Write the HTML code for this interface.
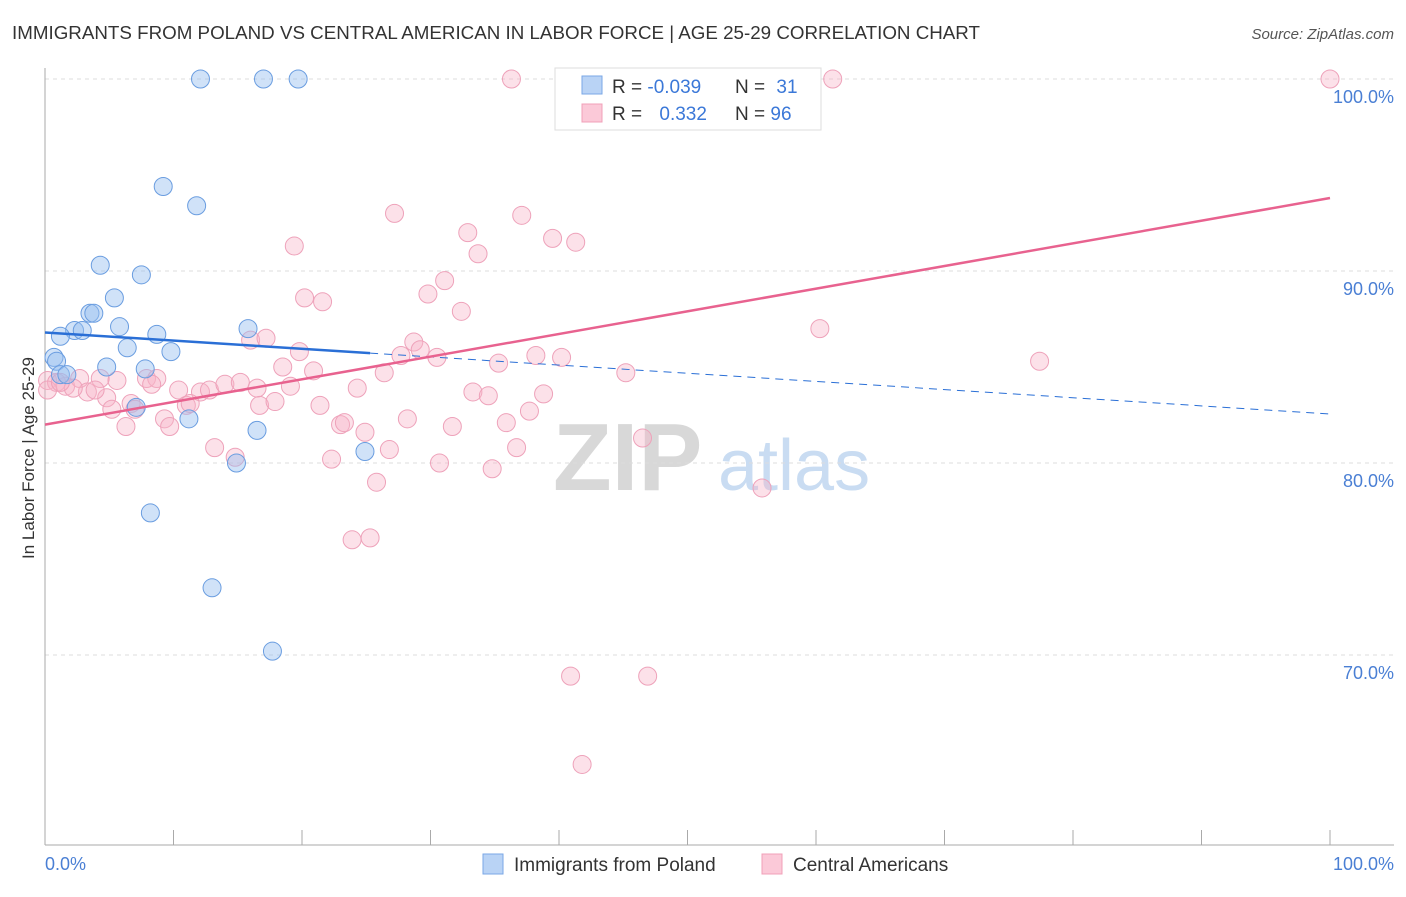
<!DOCTYPE html>
<html><head><meta charset="utf-8"><style>
body{margin:0;background:#fff;font-family:"Liberation Sans",sans-serif}
svg text{font-family:"Liberation Sans",sans-serif}
</style></head><body>
<svg id="chart" width="1406" height="892" xmlns="http://www.w3.org/2000/svg">
<text x="12" y="39" font-size="18" fill="#333" textLength="968" lengthAdjust="spacingAndGlyphs">IMMIGRANTS FROM POLAND VS CENTRAL AMERICAN IN LABOR FORCE | AGE 25-29 CORRELATION CHART</text>
<text x="1394" y="39" font-size="15" fill="#555" text-anchor="end" font-style="italic">Source: ZipAtlas.com</text>
<g>
<text x="553" y="490" font-size="96" fill="#d8d8d8" font-family="Liberation Serif" font-weight="bold">ZIP</text>
<text x="718" y="490" font-size="72" fill="#c9dcf2">atlas</text>
</g>
<g id="grid"></g>
<g id="axes"></g>
<g id="pts"></g>
<g id="trends"></g>
<text transform="translate(34,458) rotate(-90)" font-size="17" fill="#333" text-anchor="middle">In Labor Force | Age 25-29</text>
<text x="45" y="870" font-size="18" fill="#4a7fd4">0.0%</text>
<text x="1394" y="870" font-size="18" fill="#4a7fd4" text-anchor="end">100.0%</text>
<g>
<rect x="555" y="68" width="266" height="62" fill="#fff" stroke="#ddd"/>
<rect x="582" y="76" width="20" height="18" fill="#b9d3f5" stroke="#7aa7e6"/>
<rect x="582" y="104" width="20" height="18" fill="#fbc9d8" stroke="#f0a0b8"/>
<text x="612" y="93" font-size="19" fill="#333">R = <tspan fill="#3b78d8">-0.039</tspan></text>
<text x="735" y="93" font-size="19" fill="#333">N = <tspan fill="#3b78d8" dx="6">31</tspan></text>
<text x="612" y="120" font-size="19" fill="#333">R = <tspan fill="#3b78d8" dx="12">0.332</tspan></text>
<text x="735" y="120" font-size="19" fill="#333">N = <tspan fill="#3b78d8">96</tspan></text>
</g>
<g>
<rect x="483" y="854" width="20" height="20" fill="#b9d3f5" stroke="#7aa7e6"/>
<text x="514" y="871" font-size="19" fill="#333">Immigrants from Poland</text>
<rect x="762" y="854" width="20" height="20" fill="#fbc9d8" stroke="#f0a0b8"/>
<text x="793" y="871" font-size="19" fill="#333">Central Americans</text>
</g>
</svg>
<script>
const yTicks=[100,90,80,70];
const blueX=[12.1,17.0,19.7,9.2,11.8,4.3,7.5,5.4,3.5,3.8,2.3,2.9,1.2,5.8,15.8,8.7,6.4,9.8,0.7,0.9,4.8,7.8,1.2,1.7,7.1,11.2,16.5,24.9,14.9,8.2,13.0,17.7];
const blueY=[100,100,100,94.4,93.4,90.3,89.8,88.6,87.8,87.8,86.9,86.9,86.6,87.1,87.0,86.7,86.0,85.8,85.5,85.3,85.0,84.9,84.6,84.6,82.9,82.3,81.7,80.6,80.0,77.4,73.5,70.2];
const pinkX=[36.3,43.3,61.3,100,27.2,37.1,32.9,39.5,41.3,19.4,33.7,31.1,29.8,20.2,21.6,32.4,60.3,16.0,17.2,28.7,29.2,27.7,30.5,19.8,38.2,40.2,35.3,77.4,18.5,20.9,26.4,45.2,0.2,0.9,1.6,2.7,4.3,5.6,7.9,8.7,8.3,10.4,12.1,12.8,14.0,15.2,16.5,19.1,24.3,33.3,34.5,38.8,3.3,4.8,6.7,5.2,7.0,9.3,11.0,11.3,16.7,17.9,21.4,28.2,37.7,23.0,23.3,31.7,35.9,6.3,9.7,24.9,13.2,14.8,22.3,26.8,36.7,30.7,34.8,46.5,25.8,55.8,23.9,25.3,40.9,46.9,41.8,0.2,2.2,3.9,1.2];
const pinkY=[100,100,100,100,93.0,92.9,92.0,91.7,91.5,91.3,90.9,89.5,88.8,88.6,88.4,87.9,87.0,86.4,86.5,86.3,85.9,85.6,85.5,85.8,85.6,85.5,85.2,85.3,85.0,84.8,84.7,84.7,84.3,84.2,84.0,84.4,84.4,84.3,84.4,84.4,84.1,83.8,83.7,83.8,84.1,84.2,83.9,84.0,83.9,83.7,83.5,83.6,83.7,83.4,83.1,82.8,82.8,82.3,83.0,83.1,83.0,83.2,83.0,82.3,82.7,82.0,82.1,81.9,82.1,81.9,81.9,81.6,80.8,80.3,80.2,80.7,80.8,80.0,79.7,81.3,79.0,78.7,76.0,76.1,68.9,68.9,64.3,83.8,83.9,83.8,84.2];
const blueTrend=[86.8,82.55];
const pinkTrend=[82.0,93.8];
const NS="http://www.w3.org/2000/svg";
const X=v=>45+v*12.85, Y=v=>79+(100-v)*19.2;
function mk(t,a,p){const e=document.createElementNS(NS,t);for(const k in a)e.setAttribute(k,a[k]);document.getElementById(p).appendChild(e);return e;}
yTicks.forEach(t=>{
 const l=mk('line',{x1:45,x2:1394,y1:Y(t),y2:Y(t),stroke:'#ddd','stroke-dasharray':'4,4'},'grid');
 
 
 const tx=mk('text',{x:1394,y:Y(t)+24,'font-size':18,fill:'#4a7fd4','text-anchor':'end'},'grid');
 tx.textContent=t.toFixed(1)+'%';
 
 
});
mk('line',{x1:45,x2:45,y1:68,y2:845,stroke:'#aaa'},'axes');
mk('line',{x1:45,x2:1394,y1:845,y2:845,stroke:'#aaa'},'axes');
for(let i=0;i<=10;i++){mk('line',{x1:X(i*10),x2:X(i*10),y1:830,y2:845,stroke:'#aaa'},'axes');}
pinkX.forEach((x,i)=>{
 const c=mk('circle',{cx:X(x),cy:Y(pinkY[i]),r:9,fill:'rgba(248,180,200,0.4)',stroke:'#eea2ba','stroke-width':1},'pts');
 
 
});
blueX.forEach((x,i)=>{
 const c=mk('circle',{cx:X(x),cy:Y(blueY[i]),r:9,fill:'rgba(150,190,240,0.45)',stroke:'#6a9de0','stroke-width':1},'pts');
 
 
});
const bAt=x=>blueTrend[0]+(blueTrend[1]-blueTrend[0])*x/100;
const b1=mk('line',{x1:X(0),y1:Y(bAt(0)),x2:X(25.3),y2:Y(bAt(25.3)),stroke:'#2a6fd6','stroke-width':2.5},'trends');


const b2=mk('line',{x1:X(25.3),y1:Y(bAt(25.3)),x2:X(100),y2:Y(bAt(100)),stroke:'#2a6fd6','stroke-width':1,'stroke-dasharray':'8,6'},'trends');


const p1=mk('line',{x1:X(0),y1:Y(pinkTrend[0]),x2:X(100),y2:Y(pinkTrend[1]),stroke:'#e8628f','stroke-width':2.5},'trends');


</script>
</body></html>
